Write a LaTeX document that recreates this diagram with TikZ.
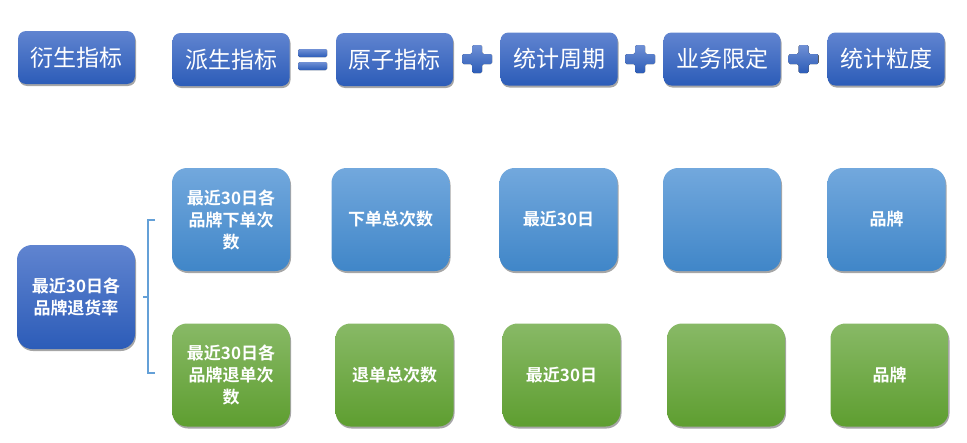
\documentclass[tikz,border=0pt]{standalone}
\usepackage{fontspec}
\newfontfamily\cjk[BoldFont={* Bold}]{Noto Sans CJK SC}
\usetikzlibrary{shadows}
\definecolor{tbtop}{RGB}{96,132,208}
\definecolor{tbbot}{RGB}{44,92,184}
\definecolor{lbtop}{RGB}{114,168,221}
\definecolor{lbbot}{RGB}{64,134,200}
\definecolor{grtop}{RGB}{136,185,102}
\definecolor{grbot}{RGB}{94,158,48}
\definecolor{brk}{RGB}{100,160,215}
\tikzset{
  shad/.style={drop shadow={shadow xshift=1pt,shadow yshift=-2pt,opacity=0.35,fill=black}},
  topbox/.style={shad,top color=tbtop,bottom color=tbbot,rounded corners=8pt,
    minimum width=117pt,minimum height=53pt,inner sep=0pt,text=white,
    font=\cjk\fontsize{23}{27}\selectfont},
  bluebox/.style={shad,top color=lbtop,bottom color=lbbot,rounded corners=15pt,
    minimum width=118pt,minimum height=103pt,inner sep=0pt,text=white,align=center,
    font=\cjk\bfseries\fontsize{17}{22}\selectfont},
  greenbox/.style={bluebox,top color=grtop,bottom color=grbot},
  leftbox/.style={bluebox,top color=tbtop,bottom color=tbbot},
  opsign/.style={top color=tbtop!90!white,bottom color=tbbot,draw=none},
  bracket/.style={draw=brk,line width=1.2pt}
}
\begin{document}
\begin{tikzpicture}[x=1pt,y=-1pt]
\useasboundingbox (0,0) rectangle (967,442);
% top row
\node[topbox] (yan) at (76.5,57.5) {衍生指标};
\node[topbox] (pai) at (231,59.5) {派生指标};
\node[topbox] (yz) at (394.5,59.5) {原子指标};
\node[topbox] (tj) at (559,59) {统计周期};
\node[topbox] (yw) at (722,59) {业务限定};
\node[topbox] (ld) at (886,59) {统计粒度};
% equals sign
\fill[opsign,rounded corners=1.5pt] (298,49) rectangle (327,57);
\fill[opsign,rounded corners=1.5pt] (298,62) rectangle (327,70);
% plus signs
\foreach \cx in {477,640,803.5}{
  \fill[opsign,rounded corners=1.5pt]
    (\cx-5,45) -- (\cx+5,45) -- (\cx+5,54) -- (\cx+15,54) -- (\cx+15,64) -- (\cx+5,64)
    -- (\cx+5,73) -- (\cx-5,73) -- (\cx-5,64) -- (\cx-15,64) -- (\cx-15,54) -- (\cx-5,54) -- cycle;
}
% left node
\node[leftbox,minimum height=104pt] (rate) at (76,297) {最近30日各\\品牌退货率};
% blue row
\node[bluebox] (d1) at (231,219.5) {最近30日各\\品牌下单次\\数};
\node[bluebox] (a1) at (390.5,219.5) {下单总次数};
\node[bluebox] (p1) at (558.5,219.5) {最近30日};
\node[bluebox] (b1) at (722,219.5) {};
\node[bluebox] (g1) at (886.5,219.5) {品牌};
% green row
\node[greenbox] (d2) at (231,375) {最近30日各\\品牌退单次\\数};
\node[greenbox] (a2) at (394.5,375) {退单总次数};
\node[greenbox] (p2) at (561.5,375) {最近30日};
\node[greenbox] (b2) at (726,375) {};
\node[greenbox] (g2) at (889.5,375) {品牌};
% bracket
\coordinate (bt) at (155,220);
\coordinate (bb) at (155,373);
\coordinate (bm) at (143,297);
\draw[bracket] (bt) -- (148,220) -- (148,373) -- (bb);
\draw[bracket] (148,297) -- (bm);
\end{tikzpicture}
\end{document}
